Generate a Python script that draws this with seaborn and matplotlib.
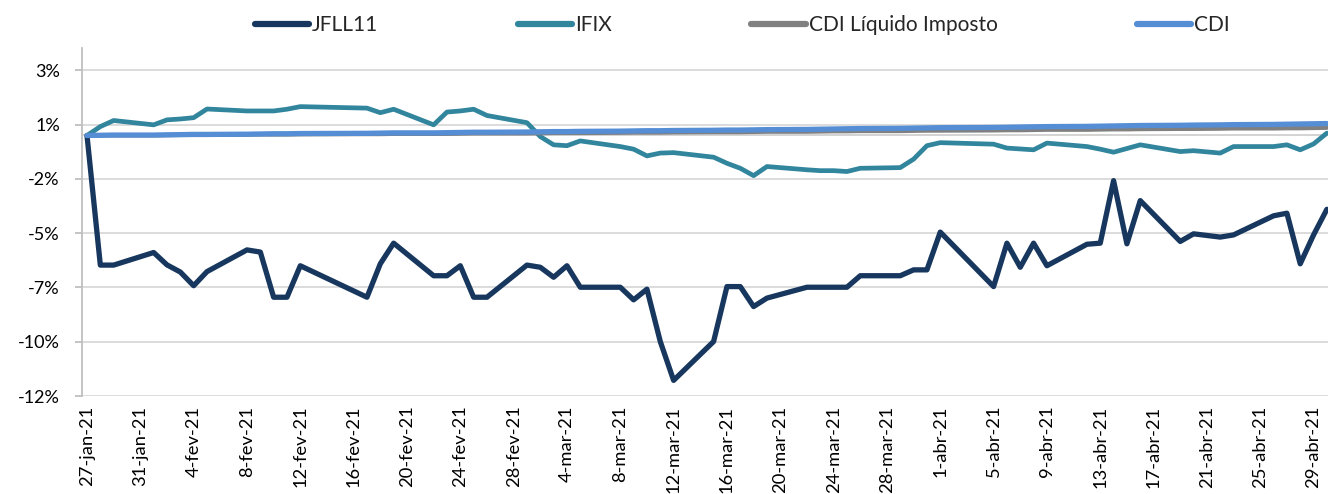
import pandas as pd
import seaborn as sns
import matplotlib.pyplot as plt
from matplotlib.lines import Line2D

# business days (B3) 27-jan-21 .. 30-abr-21
dates = pd.to_datetime([
    "2021-01-27", "2021-01-28", "2021-01-29",
    "2021-02-01", "2021-02-02", "2021-02-03", "2021-02-04", "2021-02-05",
    "2021-02-08", "2021-02-09", "2021-02-10", "2021-02-11", "2021-02-12",
    "2021-02-17", "2021-02-18", "2021-02-19",
    "2021-02-22", "2021-02-23", "2021-02-24", "2021-02-25", "2021-02-26",
    "2021-03-01", "2021-03-02", "2021-03-03", "2021-03-04", "2021-03-05",
    "2021-03-08", "2021-03-09", "2021-03-10", "2021-03-11", "2021-03-12",
    "2021-03-15", "2021-03-16", "2021-03-17", "2021-03-18", "2021-03-19",
    "2021-03-22", "2021-03-23", "2021-03-24", "2021-03-25", "2021-03-26",
    "2021-03-29", "2021-03-30", "2021-03-31", "2021-04-01",
    "2021-04-05", "2021-04-06", "2021-04-07", "2021-04-08", "2021-04-09",
    "2021-04-12", "2021-04-13", "2021-04-14", "2021-04-15", "2021-04-16",
    "2021-04-19", "2021-04-20", "2021-04-22", "2021-04-23",
    "2021-04-26", "2021-04-27", "2021-04-28", "2021-04-29", "2021-04-30",
])

# cumulative return, %
jfll11 = [0.00, -5.97, -5.97,
          -5.39, -5.96, -6.29, -6.92, -6.27,
          -5.27, -5.37, -7.45, -7.45, -6.00,
          -7.45, -5.91, -4.96,
          -6.46, -6.46, -6.00, -7.45, -7.45,
          -5.97, -6.07, -6.53, -6.00, -6.99,
          -6.99, -7.57, -7.08, -9.49, -11.28,
          -9.49, -6.96, -6.96, -7.88, -7.49,
          -6.99, -6.99, -6.99, -6.99, -6.46,
          -6.46, -6.19, -6.19, -4.45,
          -6.96, -4.96, -6.07, -4.96, -6.00,
          -5.01, -4.96, -2.08, -4.99, -3.00,
          -4.88, -4.53, -4.68, -4.58,
          -3.70, -3.58, -5.91, -4.58, -3.40]

ifix = [0.00, 0.41, 0.69,
        0.49, 0.72, 0.76, 0.82, 1.22,
        1.13, 1.13, 1.13, 1.21, 1.33,
        1.26, 1.05, 1.21,
        0.49, 1.08, 1.13, 1.21, 0.92,
        0.59, -0.05, -0.43, -0.47, -0.25,
        -0.51, -0.63, -0.94, -0.81, -0.79,
        -1.00, -1.28, -1.51, -1.85, -1.43,
        -1.58, -1.62, -1.62, -1.66, -1.51,
        -1.48, -1.09, -0.47, -0.33,
        -0.40, -0.58, -0.62, -0.66, -0.35,
        -0.51, -0.63, -0.77, -0.60, -0.43,
        -0.74, -0.70, -0.81, -0.51,
        -0.51, -0.43, -0.66, -0.39, 0.11]

cdi_liq = [0.00, 0.01, 0.01,
           0.01, 0.02, 0.03, 0.03, 0.03,
           0.04, 0.05, 0.05, 0.05, 0.06,
           0.07, 0.07, 0.08,
           0.08, 0.08, 0.09, 0.10, 0.10,
           0.10, 0.11, 0.12, 0.12, 0.12,
           0.13, 0.14, 0.14, 0.14, 0.15,
           0.16, 0.16, 0.16, 0.17, 0.18,
           0.18, 0.19, 0.20, 0.20, 0.21,
           0.21, 0.22, 0.23, 0.23,
           0.24, 0.25, 0.25, 0.26, 0.27,
           0.27, 0.28, 0.29, 0.29, 0.30,
           0.31, 0.31, 0.32, 0.33,
           0.33, 0.34, 0.34, 0.35, 0.36]

cdi = [0.00, 0.01, 0.02,
       0.02, 0.03, 0.04, 0.05, 0.05,
       0.06, 0.07, 0.08, 0.08, 0.09,
       0.10, 0.11, 0.12,
       0.12, 0.13, 0.14, 0.15, 0.15,
       0.16, 0.17, 0.18, 0.18, 0.19,
       0.20, 0.21, 0.22, 0.22, 0.23,
       0.24, 0.25, 0.25, 0.26, 0.27,
       0.28, 0.29, 0.30, 0.31, 0.32,
       0.33, 0.34, 0.35, 0.36,
       0.37, 0.38, 0.39, 0.40, 0.41,
       0.42, 0.43, 0.44, 0.45, 0.46,
       0.47, 0.48, 0.49, 0.50,
       0.51, 0.52, 0.53, 0.54, 0.55]

series_names = ["JFLL11", "IFIX", "CDI Líquido Imposto", "CDI"]
series_colors = ["#17375E", "#31859C", "#808080", "#558ED5"]

ytick_vals = [3.0, 0.5, -2.0, -4.5, -7.0, -9.5, -12.0]
ytick_labels = ["3%", "1%", "-2%", "-5%", "-7%", "-10%", "-12%"]
xtick_dates = pd.date_range("2021-01-27", "2021-04-29", freq="4D")
pt_months = {1: "jan", 2: "fev", 3: "mar", 4: "abr"}

sns.set_style("white")
plt.rcParams["font.family"] = ["Lato", "DejaVu Sans"]

fig = plt.figure(figsize=(13.28, 4.94), dpi=100)
ax = fig.add_axes([82 / 1328, 1 - 396 / 494, 1 - 82 / 1328, (396 - 48) / 494])

widths = [3.8, 3.4, 3.2, 3.8]
for vals, name, col, lw in zip([jfll11, ifix, cdi_liq, cdi], series_names, series_colors, widths):
    sns.lineplot(x=dates, y=vals, color=col, linewidth=lw, ax=ax, zorder=3,
                 solid_joinstyle="round", solid_capstyle="round")

# category axis crossing at 0
ax.axhline(0, color="#D0D0D0", linewidth=1.3, zorder=1.5)

ax.set_ylim(-12, 4.03)
ax.set_xlim(pd.Timestamp("2021-01-27") - pd.Timedelta(hours=9),
            pd.Timestamp("2021-04-30") + pd.Timedelta(hours=2))

ax.set_yticks(ytick_vals)
ax.set_yticklabels(ytick_labels)
ax.set_xticks(xtick_dates)
ax.set_xticklabels([f"{d.day}-{pt_months[d.month]}-{d:%y}" for d in xtick_dates],
                   rotation=90, ha="center", va="top")

ax.yaxis.grid(True, color="#D9D9D9", linewidth=1.3, zorder=1)
ax.xaxis.grid(False)
ax.set_axisbelow(True)
for s in ["top", "right", "bottom"]:
    ax.spines[s].set_visible(False)
ax.spines["left"].set_color("#BFBFBF")
ax.spines["left"].set_linewidth(1.3)

ax.tick_params(axis="y", length=5, width=1.3, color="#BFBFBF", pad=11,
               labelsize=13, labelcolor="black", left=True)
ax.tick_params(axis="x", length=0, pad=7, labelsize=13.2, labelcolor="black")
ax.set_xlabel("")
ax.set_ylabel("")

handles = [Line2D([0], [0], color=c, linewidth=4.5, solid_capstyle="round")
           for c in series_colors]
fig.legend(handles, series_names, loc="center", bbox_to_anchor=(0.559, 0.949),
           ncol=4, frameon=False, fontsize=15, handlelength=2.6,
           handletextpad=0.15, columnspacing=6.7)

fig.savefig("out.png", dpi=100)
plt.close(fig)
